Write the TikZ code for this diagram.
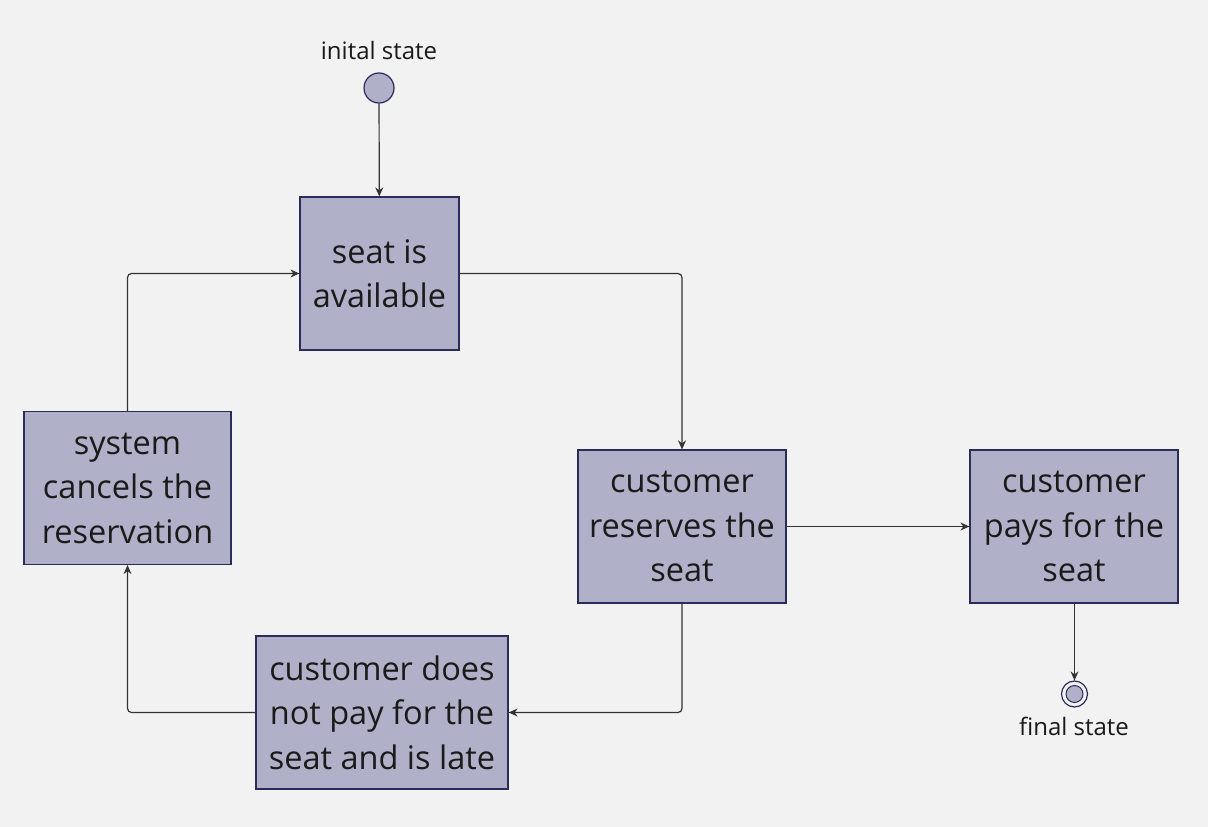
\documentclass[tikz,border=0pt]{standalone}
\usepackage{fontspec}
\setmainfont{Open Sans}
\usetikzlibrary{arrows.meta}
\definecolor{bg}{HTML}{F2F2F2}
\definecolor{boxfill}{HTML}{B0B0C9}
\definecolor{boxdraw}{HTML}{2B2B5C}
\definecolor{linec}{HTML}{333333}
\definecolor{txt}{HTML}{1A1A1A}
\begin{document}
\begin{tikzpicture}[x=1pt,y=-1pt,
  statebox/.style={draw=boxdraw,fill=boxfill,line width=1.2pt,minimum width=#1,minimum height=153pt,inner sep=0pt,align=center,text=txt,font=\fontsize{32.5}{44.5}\selectfont},
  conn/.style={draw=linec,line width=1.2pt,rounded corners=4pt,-{Stealth[length=9pt,width=8pt]}},
  lbl/.style={text=txt,font=\fontsize{24}{28}\selectfont}]
\fill[bg] (0,0) rectangle (1208,827);
\useasboundingbox (0,0) rectangle (1208,827);
\node[lbl] (initlbl) at (379,50) {inital state};
\node[circle,draw=boxdraw,fill=boxfill,line width=1.2pt,minimum size=30pt,inner sep=0pt] (init) at (379,88) {};
\node[statebox=159pt] (A) at (379.5,273.5) {seat is\\available};
\node[statebox=208pt] (B) at (682,526.5) {customer\\reserves the\\seat};
\node[statebox=208pt] (C) at (1074,526.5) {customer\\pays for the\\seat};
\node[statebox=252pt] (D) at (382,712.5) {customer does\\not pay for the\\seat and is late};
\node[statebox=207pt] (E) at (127.5,488) {system\\cancels the\\reservation};
\node[circle,draw=boxdraw,fill=bg,line width=1.2pt,minimum size=26pt,inner sep=0pt] (fin) at (1074.5,694) {};
\node[circle,draw=boxdraw,fill=boxfill,line width=1pt,minimum size=17pt,inner sep=0pt] (finin) at (1074.5,694) {};
\node[lbl] (finlbl) at (1074,726) {final state};
\draw[conn] (init) -- (A);
\draw[conn] (A.east) -| (B.north);
\draw[conn] (B) -- (C);
\draw[conn] (B.south) |- (D.east);
\draw[conn] (D.west) -| (E.south);
\draw[conn] (E.north) |- (A.west);
\draw[conn] (C.south -| fin) -- (fin);
\end{tikzpicture}
\end{document}
